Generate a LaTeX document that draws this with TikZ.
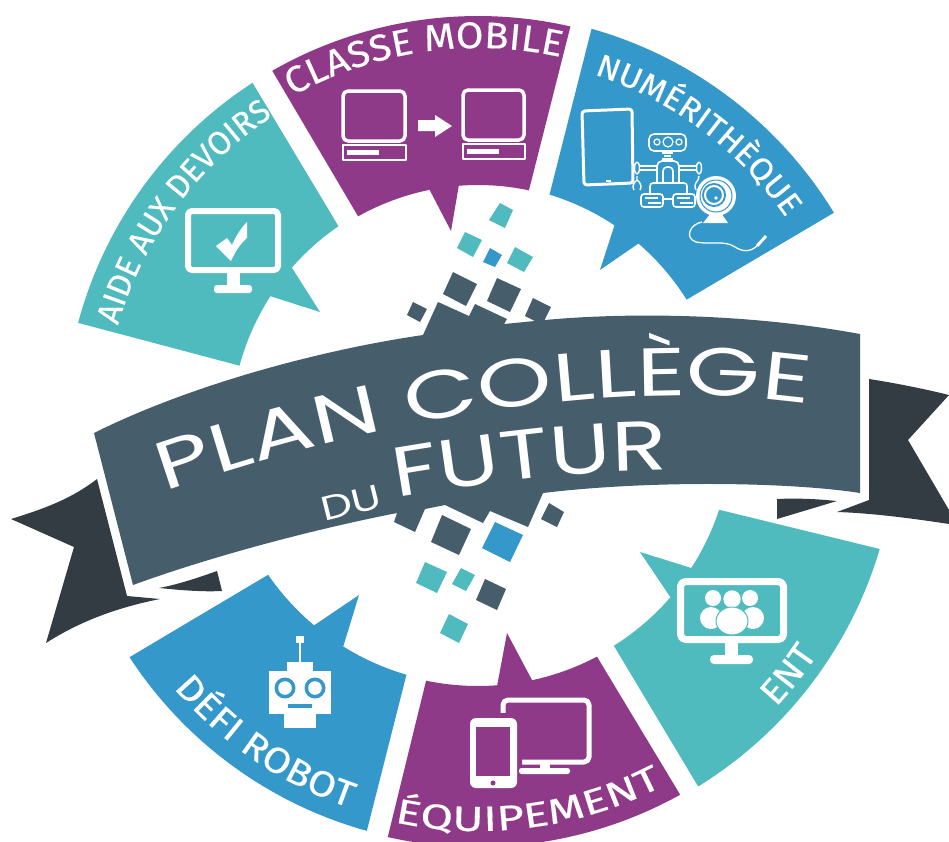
\documentclass[tikz,border=0pt]{standalone}
\usepackage{fontspec}
\usetikzlibrary{decorations.text}
\setmainfont{Liberation Sans}
\newfontfamily\dinAide[FakeStretch=0.98,FakeBold=0.4]{Fira Sans}
\newfontfamily\dinClasse[FakeStretch=1.08,FakeBold=0.4]{Fira Sans}
\newfontfamily\dinNum[FakeStretch=1.06,FakeBold=0.4]{Fira Sans}
\newfontfamily\dinEquip[FakeStretch=1.36,FakeBold=0.4]{Fira Sans}
\newfontfamily\dinDefi[FakeStretch=1.12,FakeBold=0.4]{Fira Sans}
\newfontfamily\ttlA[FakeStretch=1.40]{Poppins}
\newfontfamily\ttlB[FakeStretch=1.3]{Poppins}
\definecolor{cteal}{HTML}{50BBBF}
\definecolor{cpurple}{HTML}{8E3A88}
\definecolor{cblue}{HTML}{3498CA}
\definecolor{cband}{HTML}{465D6C}
\definecolor{ctail}{HTML}{323C42}
\newcommand\arctxt[6]{\path[decorate,decoration={text along path,text align={center},text={|\color{white}#6\fontsize{#1}{#1}\selectfont|#5}}] (#2:#4) arc[start angle=#2,end angle=#3,radius=#4];}
\tikzset{
  ico/.style={draw=white,line join=round},
  wfill/.style={fill=white,draw=none},
  tealsq/.style={fill=cteal,draw=none},
  darksq/.style={fill=cband,draw=none},
  bluesq/.style={fill=cblue,draw=none},
}
\begin{document}
\begin{tikzpicture}[x=1pt,y=-1pt]
\useasboundingbox (0,0) rectangle (949,841);
\clip (0,0) rectangle (949,841);
\fill[white] (0,0) rectangle (949,841);

% sectors
\begin{scope}[shift={(478,430)}]
\fill[cteal] (195:414) arc[start angle=195,end angle=237,radius=414] -- (235.6:247) arc[start angle=235.6,end angle=221.1,radius=247] -- (-158,-118) -- (212.8:247) arc[start angle=212.8,end angle=195.1,radius=247] -- cycle;
\fill[cpurple] (240.2:414) arc[start angle=240.2,end angle=282.9,radius=414] -- (282:245) arc[start angle=282,end angle=265.5,radius=245] -- (-27,-199) -- (258.6:245) arc[start angle=258.6,end angle=240.7,radius=245] -- cycle;
\fill[cblue] (285.8:417) arc[start angle=285.8,end angle=328.6,radius=417] -- (328:246) arc[start angle=328,end angle=310.7,radius=246] -- (122,-160) -- (303.7:246) arc[start angle=303.7,end angle=286.9,radius=246] -- cycle;
\fill[cteal] (16.5:419) arc[start angle=16.5,end angle=58.3,radius=419] -- (57.8:255) arc[start angle=57.8,end angle=41,radius=255] -- (162,122) -- (32.9:254) arc[start angle=32.9,end angle=18.3,radius=254] -- cycle;
\fill[cpurple] (61:417) arc[start angle=61,end angle=102.5,radius=417] -- (101.7:256) arc[start angle=101.7,end angle=85.7,radius=256] -- (29,203) -- (77.8:256) arc[start angle=77.8,end angle=62.3,radius=256] -- cycle;
\fill[cblue] (105.5:416) arc[start angle=105.5,end angle=146.9,radius=416] -- (145.4:255) arc[start angle=145.4,end angle=130,radius=255] -- (-119,165) -- (121.9:255) arc[start angle=121.9,end angle=106.3,radius=255] -- cycle;

% sector labels (arcs padded at each end)
\arctxt{33}{188.5}{244.5}{375}{AIDE AUX DEVOIRS}{\dinAide}
\arctxt{37}{236.7}{286.7}{382}{CLASSE MOBILE}{\dinClasse}
\arctxt{32}{281.1}{332.4}{374}{NUMÉRITHÈQUE}{\dinNum}
\arctxt{35}{109.3}{55.3}{401}{ÉQUIPEMENT}{\dinEquip}
\arctxt{36}{146.5}{102}{399}{DÉFI ROBOT}{\dinDefi}
\arctxt{36}{47.4}{29}{407}{ENT}{\dinClasse}
\end{scope}

% ribbon tails
\fill[ctail] (97,479) .. controls (70,500) and (40,510) .. (11,519) -- (74,547) -- (46,643) .. controls (85,618) and (125,606) .. (160,599) -- (127,596) -- cycle;
\fill[ctail] (159,588) .. controls (180,584) and (200,577) .. (217,571) -- (222,591) .. controls (200,592) and (180,590) .. cycle;
\fill[ctail] (869,379) .. controls (895,383) and (925,389) .. (949,395) -- (908,440) -- (949,510) -- (949,524) .. controls (910,518) and (870,513) .. (837,512) -- (869,500) -- cycle;
\fill[ctail] (777,499) .. controls (797,498) and (817,499) .. (837,501) -- (777,519) -- cycle;

% pixel squares
\fill[tealsq] (500,203) -- (513,210) -- (505,228) -- (489,220) -- cycle;
\fill[tealsq] (465,232) -- (482,240) -- (473,257) -- (457,248) -- cycle;
\fill[bluesq] (490,248) -- (502,255) -- (495,267) -- (483,262) -- cycle;
\fill[tealsq] (515,247) -- (533,257) -- (524,272) -- (507,263) -- cycle;
\fill[darksq] (453,272) -- (477,284) -- (466,306) -- (443,294) -- cycle;
\fill[darksq] (497,278) -- (521,289) -- (510,312) -- (487,301) -- cycle;
\fill[darksq] (533,298) -- (551,307) -- (544,321) -- (535,321) -- (525,316) -- cycle;
\fill[darksq] (413,302) -- (427,309) -- (420,322) -- (407,315) -- cycle;
\fill[darksq] (442,515) -- (471,529) -- (459,555) -- (431,542) -- cycle;
\fill[bluesq] (495,522) -- (523,535) -- (510,562) -- (482,548) -- cycle;
\fill[darksq] (549,503) -- (564,512) -- (557,527) -- (541,519) -- cycle;
\fill[tealsq] (425,562) -- (447,572) -- (437,593) -- (416,583) -- cycle;
\fill[tealsq] (461,568) -- (475,575) -- (466,591) -- (452,584) -- cycle;
\fill[darksq] (485,579) -- (506,589) -- (497,610) -- (476,600) -- cycle;
\fill[tealsq] (449,614) -- (468,624) -- (459,643) -- (440,633) -- cycle;

% ribbon body
\fill[cband] (94,433) .. controls (190,385) and (320,350) .. (423,335) -- (438,302) -- (469,316) -- (475,304) -- (507,319) -- (504,324) -- (545,320)
  .. controls (620,313) and (740,312) .. (860,334) -- (860,493)
  .. controls (790,482) and (650,480) .. (543,493) -- (528,527) -- (490,511) -- (483,523) -- (445,505) -- (425,509) -- (415,532) -- (394,522) -- (397,513)
  .. controls (320,528) and (215,555) .. (133,585) -- cycle;

% title
\path[decorate,decoration={text along path,text align={center},text={|\color{white}\ttlA\fontsize{68}{68}\selectfont|PLAN COLLÈGE}}] (150,497) .. controls (330,432) and (600,370) .. (824,406);
\path[decorate,decoration={text along path,text align={center},text={|\color{white}\ttlB\fontsize{70}{70}\selectfont|FUTUR}}] (385,500) .. controls (490,482) and (580,470) .. (680,470);
\node[rotate=14,text=white,font={\ttlB\fontsize{34}{34}\selectfont},inner sep=0pt] (du) at (351,503) {DU};

% icon: monitor with check
\draw[ico,line width=6,rounded corners=4] (188,211) rectangle (278,270);
\fill[wfill] (227,272) rectangle (240,288);
\fill[wfill,rounded corners=3] (214,285) rectangle (252,293);
\fill[wfill] (216,246) -- (227,238) -- (232,245) .. controls (236,236) and (241,228) .. (247,222) -- (247,238) .. controls (240,244) and (235,252) .. (231,261) -- cycle;

% icon: two laptops and arrow
\draw[ico,line width=3.5,rounded corners=5] (343,91) rectangle (405,141);
\draw[ico,line width=2.5] (343,145) rectangle (406,160);
\fill[wfill] (347,150) rectangle (379,155);
\draw[ico,line width=3.5,rounded corners=5] (463,90) rectangle (524,140);
\draw[ico,line width=2.5] (463,144) rectangle (525,159);
\fill[wfill] (467,149) rectangle (499,154);
\fill[wfill] (418,120) -- (435,120) -- (435,115) -- (452,126) -- (435,137) -- (435,131) -- (418,131) -- cycle;

% icon: tablet
\draw[ico,line width=3,rounded corners=3] (582,111) -- (632,109) -- (633,183) -- (584,185) -- cycle;
\fill[wfill] (606,180) rectangle (611,182);

% icon: robot with claws
\draw[ico,line width=1.6,rounded corners=5] (649,134) rectangle (686,151);
\draw[ico,line width=1.2] (657,142) circle[radius=3] (668,142) circle[radius=5] (679,142) circle[radius=3];
\draw[ico,line width=1.4] (662,153) -- (673,153) (664,156) -- (671,156) (662,159) -- (673,159);
\draw[ico,line width=1.6,rounded corners=5] (657,182) -- (657,161) -- (679,161) -- (679,182);
\draw[ico,line width=1.6,rounded corners=4] (663,182) -- (663,167) -- (673,167) -- (673,182);
\draw[ico,line width=1.2] (640,166) -- (657,166) (640,170) -- (657,170) (679,166) -- (696,166) (679,170) -- (696,170);
\draw[ico,line width=1.4] (637,168) ellipse[x radius=2.5,y radius=6] (699,168) ellipse[x radius=2.5,y radius=6];
\draw[ico,line width=1.4] (637,176) -- (637,180) .. controls (633,183) and (632,187) .. (634,190) (637,180) .. controls (641,183) and (642,187) .. (640,190);
\draw[ico,line width=1.4] (699,176) -- (698,180) .. controls (695,183) and (694,187) .. (696,190);
\draw[ico,line width=1.6,rounded corners=3] (650,193) -- (650,183) -- (687,183) -- (687,193);
\draw[ico,line width=1.6,rounded corners=3] (641,194) rectangle (663,207);
\draw[ico,line width=1.6,rounded corners=3] (673,194) rectangle (695,207);
\draw[ico,line width=1.2] (645,198) -- (658,198) (648,203) -- (661,203) (677,198) -- (690,198) (680,203) -- (693,203) (663,199) -- (673,199);

% icon: webcam
\fill[wfill] (716,196) circle[radius=20];
\draw[cblue,line width=1] (716,196) circle[radius=16];
\fill[cblue] (714,195) circle[radius=12];
\draw[white,line width=2] (714,195) circle[radius=9];
\fill[white] (716,198) circle[radius=1.8];
\fill[wfill] (711,213) -- (721,213) -- (728,223) -- (703,223) -- cycle;
\draw[ico,line width=1.3] (702,222) .. controls (690,224) and (684,238) .. (696,242) .. controls (712,245) and (725,240) .. (735,247) .. controls (743,252) and (750,252) .. (757,246);
\draw[ico,line width=3] (757,246) -- (766,236);

% icon: antenna robot
\fill[wfill] (296,636) rectangle (304,643);
\fill[wfill] (299,643) rectangle (301,662);
\fill[wfill] (287,662) rectangle (313,671);
\fill[wfill] (269,671) rectangle (331,714);
\fill[wfill] (284,714) rectangle (316,728);
\fill[cblue] (285,688) circle[radius=10.5] (315,688) circle[radius=10.5];
\fill[wfill] (285,688) circle[radius=6.8] (315,688) circle[radius=6.8];
\fill[cblue] (288,704) rectangle (312,708);

% icon: phone and monitor
\draw[ico,line width=5,rounded corners=5] (503,700) rectangle (589,762);
\fill[cpurple,rounded corners=7] (465,713) rectangle (522,793);
\fill[wfill] (540,764) rectangle (550,769);
\fill[wfill,rounded corners=2.5] (519,768) rectangle (570,774);
\fill[wfill,rounded corners=6] (470,718) rectangle (517,788);
\fill[cpurple] (476,727) rectangle (510,776);
\fill[cpurple] (493,783) circle[radius=2.5];

% icon: monitor with people
\draw[ico,line width=7,rounded corners=5] (680.5,581.5) rectangle (783.5,639.5);
\fill[wfill] (725,642) rectangle (738,657);
\fill[wfill,rounded corners=4] (710,655) rectangle (753,664);
\fill[wfill] (713,598) circle[radius=8] (750,598) circle[radius=8] (732,599) circle[radius=8.7];
\fill[wfill] (711,618) ellipse[x radius=11,y radius=11] (753,618) ellipse[x radius=11,y radius=11];
\draw[fill=white,draw=cteal,line width=1] (732,621) ellipse[x radius=16,y radius=14];
\end{tikzpicture}
\end{document}
